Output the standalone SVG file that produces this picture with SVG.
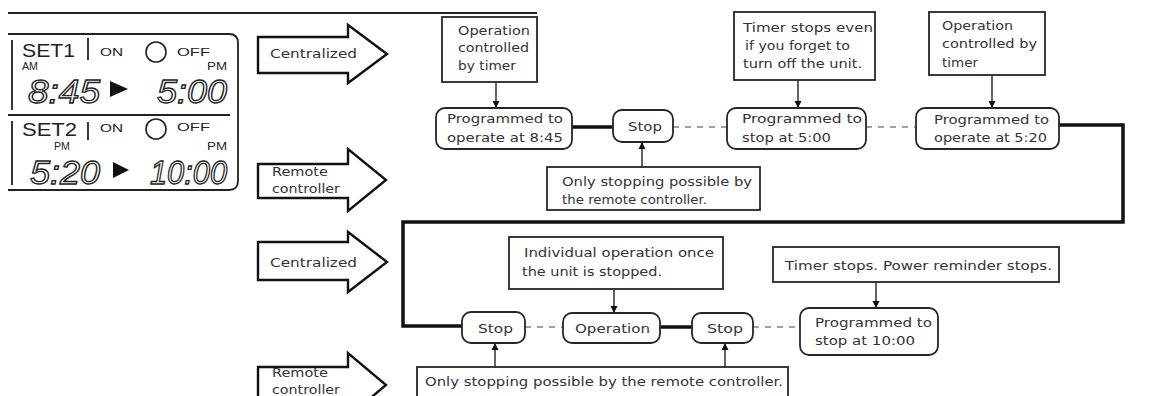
<svg xmlns="http://www.w3.org/2000/svg" width="1152" height="396" viewBox="0 0 1152 396">
<style>
.box{fill:#fff;stroke:#262626;stroke-width:1.8}
.blk{fill:#fff;stroke:#111;stroke-width:2.4;stroke-linejoin:miter}
.t{font-family:"DejaVu Sans",sans-serif;font-size:13px;fill:#333}
.lcd{font-family:"Liberation Sans",Arial,sans-serif;fill:#222}
.dig{font-family:"Liberation Sans",Arial,sans-serif;font-size:33px;font-style:italic;fill:#fff;stroke:#222;stroke-width:1.3}
.thick{fill:none;stroke:#111;stroke-width:3.5}
.dash{fill:none;stroke:#444;stroke-width:1.2;stroke-dasharray:6 6}
.ar{fill:none;stroke:#222;stroke-width:1.4}
.ln{fill:none;stroke:#222;stroke-width:1.8}
</style>
<defs>
<marker id="ah" viewBox="0 0 10 10" refX="10" refY="5" markerWidth="7" markerHeight="9" markerUnits="userSpaceOnUse" orient="auto">
<path d="M0,0 L10,5 L0,10 Z" fill="#111"/>
</marker>
</defs>

<line class="ln" x1="8" y1="13" x2="537" y2="13"/>

<g id="lcd">
<path class="ln" d="M8,34 H229 Q238,34 238,43 V181 Q238,190 229,190 H8"/>
<line class="ln" x1="12" y1="40" x2="12" y2="110"/>
<line class="ln" x1="12" y1="121" x2="12" y2="185"/>
<line class="ln" x1="8" y1="115" x2="230" y2="115"/>
<text class="lcd" x="22" y="57" font-size="18" textLength="53" lengthAdjust="spacingAndGlyphs">SET1</text>
<line class="ln" x1="88" y1="38" x2="88" y2="60" stroke-width="1.2"/>
<text class="lcd" x="100" y="56" font-size="11" textLength="23" lengthAdjust="spacingAndGlyphs">ON</text>
<circle cx="156" cy="52" r="10" fill="none" stroke="#222" stroke-width="1.6"/>
<text class="lcd" x="177" y="56" font-size="11" textLength="33" lengthAdjust="spacingAndGlyphs">OFF</text>
<text class="lcd" x="22" y="70" font-size="10" textLength="16" lengthAdjust="spacingAndGlyphs">AM</text>
<text class="lcd" x="207" y="70" font-size="10" textLength="20" lengthAdjust="spacingAndGlyphs">PM</text>
<text class="dig" x="28" y="103" textLength="72" lengthAdjust="spacingAndGlyphs">8:45</text>
<polygon points="110,81 128,89 110,97" fill="#111"/>
<text class="dig" x="157" y="103" textLength="70" lengthAdjust="spacingAndGlyphs">5:00</text>
<text class="lcd" x="22" y="136" font-size="18" textLength="55" lengthAdjust="spacingAndGlyphs">SET2</text>
<line class="ln" x1="88" y1="122" x2="88" y2="140" stroke-width="1.2"/>
<text class="lcd" x="100" y="132" font-size="11" textLength="23" lengthAdjust="spacingAndGlyphs">ON</text>
<circle cx="156" cy="129" r="10" fill="none" stroke="#222" stroke-width="1.6"/>
<text class="lcd" x="177" y="131" font-size="11" textLength="33" lengthAdjust="spacingAndGlyphs">OFF</text>
<text class="lcd" x="54" y="150" font-size="10" textLength="16" lengthAdjust="spacingAndGlyphs">PM</text>
<text class="lcd" x="207" y="150" font-size="10" textLength="20" lengthAdjust="spacingAndGlyphs">PM</text>
<text class="dig" x="30" y="184" textLength="70" lengthAdjust="spacingAndGlyphs">5:20</text>
<polygon points="113,162 129,170 113,178" fill="#111"/>
<text class="dig" x="150" y="184" textLength="77" lengthAdjust="spacingAndGlyphs">10:00</text>
</g>

<g id="arrow-centralized-1">
<polygon class="blk" points="258,37 348,37 348,25 387,54 348,83 348,73 258,73"/>
<text class="t" x="270" y="58" textLength="87" lengthAdjust="spacingAndGlyphs">Centralized</text>
</g>
<g id="arrow-remote-1">
<polygon class="blk" points="258,164 348,164 348,149 386,180 348,211 348,198 258,198"/>
<text class="t" x="272" y="176" textLength="56" lengthAdjust="spacingAndGlyphs">Remote</text>
<text class="t" x="272" y="193" textLength="68" lengthAdjust="spacingAndGlyphs">controller</text>
</g>
<g id="arrow-centralized-2">
<polygon class="blk" points="258,242 348,242 348,232 387,262 348,292 348,280 258,280"/>
<text class="t" x="270" y="267" textLength="87" lengthAdjust="spacingAndGlyphs">Centralized</text>
</g>
<g id="arrow-remote-2">
<polygon class="blk" points="258,367 348,367 348,353 386,385 348,417 348,403 258,403"/>
<text class="t" x="272" y="377" textLength="56" lengthAdjust="spacingAndGlyphs">Remote</text>
<text class="t" x="272" y="394" textLength="68" lengthAdjust="spacingAndGlyphs">controller</text>
</g>

<g id="connectors">
<line class="thick" x1="572" y1="127" x2="613" y2="127"/>
<line class="dash" x1="673" y1="127" x2="727" y2="127"/>
<line class="dash" x1="866" y1="127" x2="916" y2="127"/>
<path class="thick" d="M1059,125 H1123 V222 H403 V326 H462"/>
<line class="dash" x1="525" y1="327" x2="563" y2="327"/>
<line class="thick" x1="660" y1="327" x2="692" y2="327"/>
<line class="dash" x1="753" y1="327" x2="800" y2="327"/>
<line class="ar" x1="496" y1="82" x2="496" y2="108" marker-end="url(#ah)"/>
<line class="ar" x1="798" y1="80" x2="798" y2="108" marker-end="url(#ah)"/>
<line class="ar" x1="992" y1="75" x2="992" y2="108" marker-end="url(#ah)"/>
<line class="ar" x1="642" y1="167" x2="642" y2="142" marker-end="url(#ah)"/>
<line class="ar" x1="614" y1="289" x2="614" y2="313" marker-end="url(#ah)"/>
<line class="ar" x1="876" y1="282" x2="876" y2="308" marker-end="url(#ah)"/>
<line class="ar" x1="495" y1="367" x2="495" y2="343" marker-end="url(#ah)"/>
<line class="ar" x1="725" y1="367" x2="725" y2="343" marker-end="url(#ah)"/>
</g>

<g id="note-timer-1">
<rect class="box" x="442" y="17" width="95" height="65"/>
<text class="t" x="458" y="35" textLength="72" lengthAdjust="spacingAndGlyphs">Operation</text>
<text class="t" x="458" y="52" textLength="71" lengthAdjust="spacingAndGlyphs">controlled</text>
<text class="t" x="458" y="70" textLength="58" lengthAdjust="spacingAndGlyphs">by timer</text>
</g>
<g id="prog-845">
<rect class="box" x="436" y="108" width="136" height="41" rx="9"/>
<text class="t" x="447" y="123" textLength="116" lengthAdjust="spacingAndGlyphs">Programmed to</text>
<text class="t" x="447" y="142" textLength="116" lengthAdjust="spacingAndGlyphs">operate at 8:45</text>
</g>
<g id="stop-1">
<rect class="box" x="613" y="110" width="60" height="32" rx="9"/>
<text class="t" x="628" y="131" textLength="34" lengthAdjust="spacingAndGlyphs">Stop</text>
</g>
<g id="note-remote-1">
<rect class="box" x="547" y="167" width="213" height="43"/>
<text class="t" x="562" y="186" textLength="190" lengthAdjust="spacingAndGlyphs">Only stopping possible by</text>
<text class="t" x="562" y="204" textLength="145" lengthAdjust="spacingAndGlyphs">the remote controller.</text>
</g>
<g id="note-forget">
<rect class="box" x="734" y="12" width="141" height="68"/>
<text class="t" x="743" y="32" textLength="130" lengthAdjust="spacingAndGlyphs">Timer stops even</text>
<text class="t" x="745" y="50" textLength="105" lengthAdjust="spacingAndGlyphs">if you forget to</text>
<text class="t" x="743" y="68" textLength="119" lengthAdjust="spacingAndGlyphs">turn off the unit.</text>
</g>
<g id="prog-500">
<rect class="box" x="727" y="108" width="139" height="41" rx="9"/>
<text class="t" x="742" y="123" textLength="120" lengthAdjust="spacingAndGlyphs">Programmed to</text>
<text class="t" x="742" y="142" textLength="89" lengthAdjust="spacingAndGlyphs">stop at 5:00</text>
</g>
<g id="note-timer-2">
<rect class="box" x="929" y="12" width="116" height="63"/>
<text class="t" x="942" y="30" textLength="71" lengthAdjust="spacingAndGlyphs">Operation</text>
<text class="t" x="942" y="48" textLength="95" lengthAdjust="spacingAndGlyphs">controlled by</text>
<text class="t" x="942" y="67" textLength="36" lengthAdjust="spacingAndGlyphs">timer</text>
</g>
<g id="prog-520">
<rect class="box" x="916" y="108" width="143" height="41" rx="9"/>
<text class="t" x="934" y="124" textLength="115" lengthAdjust="spacingAndGlyphs">Programmed to</text>
<text class="t" x="934" y="142" textLength="113" lengthAdjust="spacingAndGlyphs">operate at 5:20</text>
</g>

<g id="note-individual">
<rect class="box" x="509" y="237" width="214" height="52"/>
<text class="t" x="524" y="257" textLength="190" lengthAdjust="spacingAndGlyphs">Individual operation once</text>
<text class="t" x="522" y="276" textLength="140" lengthAdjust="spacingAndGlyphs">the unit is stopped.</text>
</g>
<g id="stop-2">
<rect class="box" x="462" y="312" width="63" height="31" rx="9"/>
<text class="t" x="478" y="333" textLength="35" lengthAdjust="spacingAndGlyphs">Stop</text>
</g>
<g id="operation">
<rect class="box" x="563" y="313" width="97" height="30" rx="9"/>
<text class="t" x="575" y="333" textLength="75" lengthAdjust="spacingAndGlyphs">Operation</text>
</g>
<g id="stop-3">
<rect class="box" x="692" y="313" width="61" height="30" rx="9"/>
<text class="t" x="707" y="333" textLength="36" lengthAdjust="spacingAndGlyphs">Stop</text>
</g>
<g id="note-power">
<rect class="box" x="773" y="247" width="286" height="35"/>
<text class="t" x="785" y="270" textLength="267" lengthAdjust="spacingAndGlyphs">Timer stops. Power reminder stops.</text>
</g>
<g id="prog-1000">
<rect class="box" x="800" y="308" width="138" height="47" rx="9"/>
<text class="t" x="815" y="327" textLength="117" lengthAdjust="spacingAndGlyphs">Programmed to</text>
<text class="t" x="815" y="345" textLength="100" lengthAdjust="spacingAndGlyphs">stop at 10:00</text>
</g>
<g id="note-remote-2">
<rect class="box" x="417" y="367" width="371" height="30"/>
<text class="t" x="425" y="386" textLength="358" lengthAdjust="spacingAndGlyphs">Only stopping possible by the remote controller.</text>
</g>
</svg>
